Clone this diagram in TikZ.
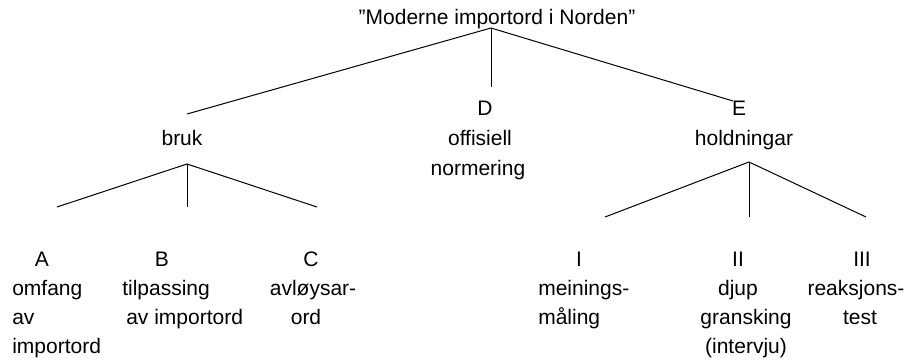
\documentclass[tikz,border=0pt]{standalone}
\usepackage{fontspec}
\setmainfont{Liberation Sans}
\begin{document}
\begin{tikzpicture}[x=0.75pt,y=-0.75pt,
  lbl/.style={anchor=base, inner sep=0pt, font=\fontsize{15.75pt}{18pt}\selectfont},
  lblw/.style={lbl, anchor=base west},
  ln/.style={line width=0.75pt, black}]
\useasboundingbox[fill=white] (0,0) rectangle (910,360);
% top
\node[lbl] (title) at (497,25) {"Moderne importord i Norden"};
\node[lbl] (D) at (485,115) {D};
\node[lbl] (D1) at (480,145) {offisiell};
\node[lbl] (D2) at (478,175) {normering};
\node[lbl] (E) at (739,115) {E};
\node[lbl] (E1) at (744,145) {holdningar};
\node[lbl] (bruk) at (182,145) {bruk};
% bruk children
\node[lbl] (A) at (42,266) {A};
\node[lblw] (A1) at (12,295) {omfang};
\node[lblw] (A2) at (12,324) {av};
\node[lblw] (A3) at (12,353) {importord};
\node[lbl] (B) at (162,266) {B};
\node[lblw] (B1) at (122,295) {tilpassing};
\node[lblw] (B2) at (126,324) {av importord};
\node[lbl] (C) at (311,266) {C};
\node[lbl] (C1) at (313,295) {avløysar-};
\node[lbl] (C2) at (306,324) {ord};
% holdningar children
\node[lbl] (I) at (579,266) {I};
\node[lblw] (I1) at (538,295) {meinings-};
\node[lblw] (I2) at (538,324) {måling};
\node[lbl] (II) at (738,266) {II};
\node[lbl] (II1) at (738,295) {djup};
\node[lbl] (II2) at (746,324) {gransking};
\node[lbl] (II3) at (746,353) {(intervju)};
\node[lbl] (III) at (862,266) {III};
\node[lbl] (III1) at (856,295) {reaksjons-};
\node[lbl] (III2) at (860,324) {test};
% connectors
\coordinate (r) at (491,28);
\coordinate (rl) at (187,114);
\coordinate (rm) at (491,87);
\coordinate (rr) at (733,101);
\draw[ln] (rl) -- (r) -- (rr);
\draw[ln] (r) -- (rm);
\coordinate (b) at (187,164);
\coordinate (b1) at (57,207);
\coordinate (b2) at (187,207);
\coordinate (b3) at (317,207);
\draw[ln] (b1) -- (b) -- (b3);
\draw[ln] (b) -- (b2);
\coordinate (h) at (749,162);
\coordinate (h1) at (605,217);
\coordinate (h2) at (749,217);
\coordinate (h3) at (866,217);
\draw[ln] (h1) -- (h) -- (h3);
\draw[ln] (h) -- (h2);
\end{tikzpicture}
\end{document}
